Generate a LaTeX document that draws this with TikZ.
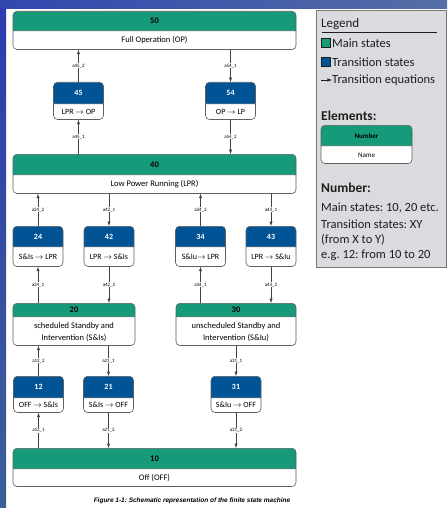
\documentclass[tikz,border=0pt]{standalone}
\usepackage{fontspec}
\setmainfont{Carlito}
\newfontfamily\capfont{Liberation Sans}
\usetikzlibrary{arrows,positioning,shapes,calc,backgrounds}
\frenchspacing

\definecolor{stategreen}{RGB}{22,155,122}
\definecolor{transblue}{RGB}{0,84,150}
\definecolor{boxline}{RGB}{95,95,95}
\definecolor{legendgray}{RGB}{217,219,222}
\definecolor{legendframe}{RGB}{120,120,120}
\definecolor{legendtext}{RGB}{30,30,30}

% strut of given height, text kept vertically centred
\newcommand{\vsp}[1]{\rule[\dimexpr 2.7pt-#1pt/2\relax]{0pt}{#1pt}}
\newcommand{\arr}{\ensuremath{\rightarrow}}
\newcommand{\thdr}[1]{\textcolor{white}{\textbf{#1}}}

\tikzset{
  fsm/.style={rectangle split, rectangle split parts=2, draw=boxline, line width=0.6pt,
    rounded corners=4pt, inner xsep=2pt, inner ysep=0pt, align=center,
    font=\fontsize{8}{12}\selectfont, anchor=north},
  mainstate/.style={fsm, rectangle split part fill={stategreen,white}, minimum width=#1,
    font=\fontsize{8.5}{12}\selectfont},
  transstate/.style={fsm, rectangle split part fill={transblue,white}, minimum width=50pt},
  trans/.style={draw=black!75, line width=0.5pt, -latex},
  eqlabel/.style={fill=white, inner sep=0.6pt, font=\fontsize{5}{6}\selectfont},
  legtext/.style={anchor=west, inner sep=0pt, text=legendtext, font=\fontsize{12.5}{14}\selectfont},
  leghead/.style={legtext, font=\fontsize{13.5}{15}\selectfont\bfseries},
}

\begin{document}
\begin{tikzpicture}[x=1pt,y=-1pt]
  \useasboundingbox (0,0) rectangle (447,508);
  % slide background
  \fill[white] (0,0) rectangle (447,508);
  \shade[left color={rgb,255:red,50;green,70;blue,175}, middle color={rgb,255:red,12;green,25;blue,205},
    right color={rgb,255:red,85;green,110;blue,165}] (0,0) rectangle (447,9);
  \shade[top color={rgb,255:red,45;green,60;blue,175}, bottom color={rgb,255:red,60;green,95;blue,150}]
    (0,9) rectangle (6,508);

  % main states
  \node[mainstate=283pt] (s50) at (154.5,11) {\vsp{19}\textbf{50}\nodepart{two}\vsp{18}Full Operation (OP)};
  \node[mainstate=283pt] (s40) at (154.5,154) {\vsp{20}\textbf{40}\nodepart{two}\vsp{18}Low Power Running (LPR)};
  \node[mainstate=122pt] (s20) at (74,303) {\vsp{13}\textbf{20}\nodepart{two}\rule{0pt}{11.5pt}scheduled Standby and\\Intervention (S\&Is)\rule[-4.5pt]{0pt}{0pt}};
  \node[mainstate=120pt] (s30) at (236,303) {\vsp{13}\textbf{30}\nodepart{two}\rule{0pt}{11.5pt}unscheduled Standby and\\Intervention (S\&Iu)\rule[-4.5pt]{0pt}{0pt}};
  \node[mainstate=283pt] (s10) at (154.5,448) {\vsp{20}\textbf{10}\nodepart{two}\vsp{17}Off (OFF)};

  % transition states
  \node[transstate] (t45) at (78.5,82) {\vsp{21}\thdr{45}\nodepart{two}\vsp{15}LPR \arr{} OP};
  \node[transstate] (t54) at (230.5,82) {\vsp{21}\thdr{54}\nodepart{two}\vsp{15}OP \arr{} LP};
  \node[transstate] (t24) at (38,226) {\vsp{20}\thdr{24}\nodepart{two}\vsp{19}S\&Is \arr{} LPR};
  \node[transstate] (t42) at (109,226) {\vsp{20}\thdr{42}\nodepart{two}\vsp{19}LPR \arr{} S\&Is};
  \node[transstate] (t34) at (200.5,226) {\vsp{20}\thdr{34}\nodepart{two}\vsp{19}S\&Iu\arr{} LPR};
  \node[transstate] (t43) at (271,226) {\vsp{20}\thdr{43}\nodepart{two}\vsp{19}LPR \arr{} S\&Iu};
  \node[transstate] (t12) at (38.5,376) {\vsp{21}\thdr{12}\nodepart{two}\vsp{14}OFF \arr{} S\&Is};
  \node[transstate] (t21) at (108.5,376) {\vsp{21}\thdr{21}\nodepart{two}\vsp{14}S\&Is \arr{} OFF};
  \node[transstate] (t31) at (236,376) {\vsp{21}\thdr{31}\nodepart{two}\vsp{14}S\&Iu \arr{} OFF};

  % transition equations
  \draw[trans] (t45) -- node[eqlabel] {a45\_2} (t45 |- s50.south);
  \draw[trans] (t45 |- s40.north) -- node[eqlabel] {a45\_1} (t45);
  \draw[trans] (t54 |- s50.south) -- node[eqlabel] {a54\_1} (t54);
  \draw[trans] (t54) -- node[eqlabel] {a54\_2} (t54 |- s40.north);

  \draw[trans] (t24) -- node[eqlabel] {a24\_2} (t24 |- s40.south);
  \draw[trans] (t24 |- s20.north) -- node[eqlabel] {a24\_1} (t24);
  \draw[trans] (t42 |- s40.south) -- node[eqlabel] {a42\_1} (t42);
  \draw[trans] (t42) -- node[eqlabel] {a42\_2} (t42 |- s20.north);
  \draw[trans] (t34) -- node[eqlabel] {a34\_2} (t34 |- s40.south);
  \draw[trans] (t34 |- s30.north) -- node[eqlabel] {a34\_1} (t34);
  \draw[trans] (t43 |- s40.south) -- node[eqlabel] {a43\_1} (t43);
  \draw[trans] (t43) -- node[eqlabel] {a43\_2} (t43 |- s30.north);

  \draw[trans] (t12) -- node[eqlabel] {a12\_2} (t12 |- s20.south);
  \draw[trans] (t12 |- s10.north) -- node[eqlabel] {a12\_1} (t12);
  \draw[trans] (t21 |- s20.south) -- node[eqlabel] {a21\_1} (t21);
  \draw[trans] (t21) -- node[eqlabel] {a21\_2} (t21 |- s10.north);
  \draw[trans] (t31 |- s30.south) -- node[eqlabel] {a31\_1} (t31);
  \draw[trans] (t31) -- node[eqlabel] {a31\_2} (t31 |- s10.north);

  % legend
  \node[draw=legendframe, fill=legendgray, anchor=north west, inner sep=0pt,
    minimum width=130pt, minimum height=257pt] (legend) at (316,10) {};
  \node[leghead, font=\fontsize{13}{15}\selectfont] (legtitle) at (321,24) {Legend};
  \draw[legendtext, line width=0.7pt] (322,32) -- (437,32);
  \node[draw=legendtext, fill=stategreen, minimum size=9pt, inner sep=0pt, anchor=west] (keymain) at (321,43) {};
  \node[legtext, right=1.5pt of keymain] (txtmain) {Main states};
  \node[draw=legendtext, fill=transblue, minimum size=9pt, inner sep=0pt, anchor=west] (keytrans) at (321,62) {};
  \node[legtext, right=1.5pt of keytrans] (txttrans) {Transition states};
  \coordinate (keyeq) at (321,80);
  \node[legtext] (txteq) at (332,80) {Transition equations};
  \draw[legendtext, line width=0.6pt, -latex] (keyeq) -- (txteq.west);

  \node[leghead] (elements) at (321,116) {Elements:};
  \node[mainstate=91pt, font=\fontsize{7}{9}\selectfont] (example) at (366.5,125)
    {\vsp{20}\textbf{Number}\nodepart{two}\vsp{17}Name};

  \node[leghead] (number) at (321,188) {Number:};
  \node[legtext] (num1) at (321,208) {Main states: 10, 20 etc.};
  \node[legtext] (num2) at (321,224.5) {Transition states: XY};
  \node[legtext] (num3) at (321,240) {(from X to Y)};
  \node[legtext] (num4) at (321,255.5) {e.g. 12: from 10 to 20};

  % caption
  \node[font=\capfont\fontsize{6.5}{8}\selectfont\bfseries\itshape] (caption) at (192,501)
    {Figure 1-1: Schematic representation of the finite state machine};
\end{tikzpicture}
\end{document}
